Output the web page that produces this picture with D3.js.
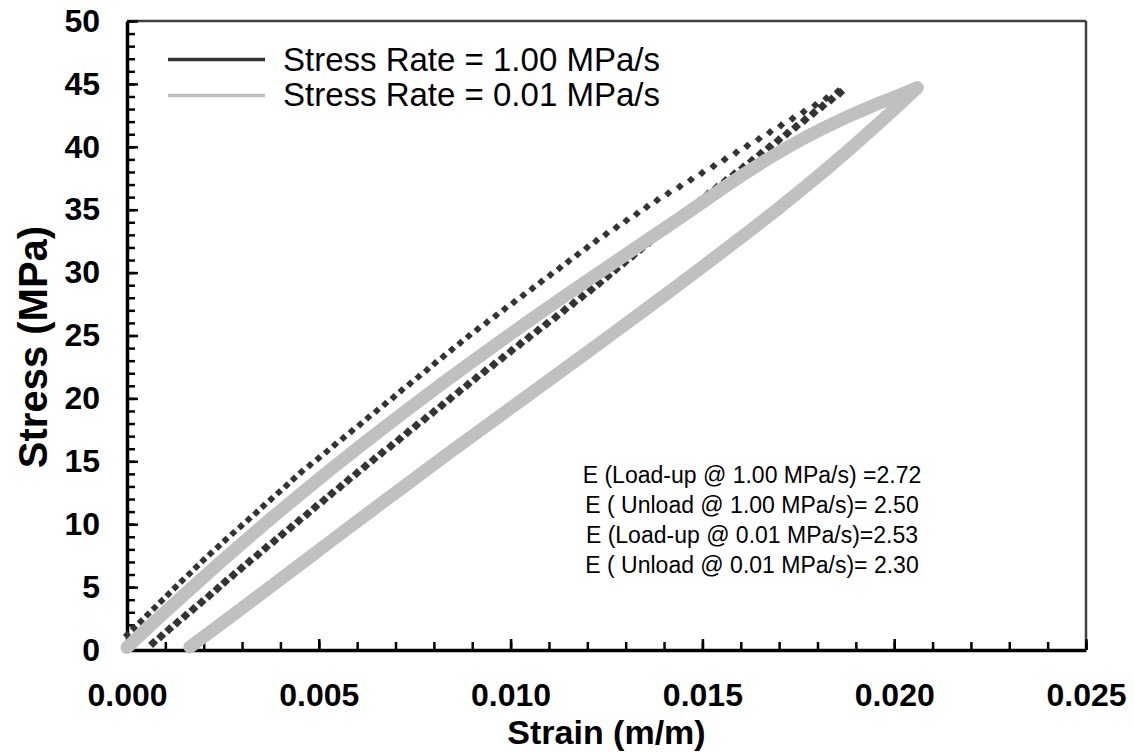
<!DOCTYPE html>
<html>
<head>
<meta charset="utf-8">
<script src="https://cdn.jsdelivr.net/npm/d3@7"></script>
<style>
  html, body { margin: 0; padding: 0; background: #fff; }
  svg { display: block; font-family: "Liberation Sans", Arial, sans-serif; }
</style>
</head>
<body>
<svg id="chart" width="1134" height="753"></svg>
<script>
// Axis ticks and labels
const xTicks = [0, 0.005, 0.010, 0.015, 0.020, 0.025];
const xTickLabels = ["0.000", "0.005", "0.010", "0.015", "0.020", "0.025"];
const yTicks = [0, 5, 10, 15, 20, 25, 30, 35, 40, 45, 50];
const yTickLabels = ["0", "5", "10", "15", "20", "25", "30", "35", "40", "45", "50"];

const seriesNames = ["Stress Rate = 1.00 MPa/s", "Stress Rate = 0.01 MPa/s"];
const modulusNotes = [
  "E (Load-up @ 1.00 MPa/s) =2.72",
  "E ( Unload @ 1.00 MPa/s)= 2.50",
  "E (Load-up @ 0.01 MPa/s)=2.53",
  "E ( Unload @ 0.01 MPa/s)= 2.30"
];

// 1.00 MPa/s — loading branch
const fastLoadStrain = [0.00000,0.00018,0.00036,0.00054,0.00072,0.00090,0.00108,0.00126,0.00144,0.00163,
  0.00181,0.00199,0.00218,0.00238,0.00257,0.00277,0.00297,0.00317,0.00337,0.00356,
  0.00376,0.00396,0.00416,0.00435,0.00455,0.00477,0.00499,0.00521,0.00542,0.00564,
  0.00586,0.00608,0.00629,0.00651,0.00673,0.00695,0.00716,0.00738,0.00760,0.00782,
  0.00803,0.00825,0.00847,0.00869,0.00891,0.00914,0.00938,0.00962,0.00985,0.01009,
  0.01033,0.01057,0.01080,0.01104,0.01128,0.01151,0.01175,0.01199,0.01223,0.01249,
  0.01276,0.01302,0.01329,0.01355,0.01382,0.01411,0.01441,0.01470,0.01499,0.01529,
  0.01558,0.01588,0.01617,0.01647,0.01676,0.01705,0.01735,0.01764,0.01794,0.01823,0.01853];
const fastLoadStress = [1.20,1.74,2.28,2.82,3.36,3.90,4.44,4.98,5.52,6.06,
  6.60,7.14,7.68,8.22,8.76,9.30,9.84,10.38,10.92,11.46,
  12.00,12.54,13.08,13.62,14.16,14.70,15.24,15.78,16.32,16.86,
  17.40,17.94,18.48,19.02,19.56,20.10,20.64,21.18,21.72,22.26,
  22.80,23.34,23.88,24.42,24.96,25.50,26.04,26.58,27.12,27.66,
  28.20,28.74,29.28,29.82,30.36,30.90,31.44,31.98,32.52,33.06,
  33.60,34.14,34.68,35.22,35.76,36.30,36.84,37.38,37.92,38.46,
  39.00,39.54,40.08,40.62,41.16,41.70,42.24,42.78,43.32,43.86,44.40];

// 1.00 MPa/s — unloading branch
const fastUnloadStrain = [0.01859,0.01836,0.01813,0.01790,0.01767,0.01744,0.01721,0.01698,0.01675,0.01652,
  0.01629,0.01606,0.01583,0.01560,0.01537,0.01514,0.01492,0.01470,0.01449,0.01427,
  0.01405,0.01384,0.01362,0.01340,0.01319,0.01297,0.01275,0.01254,0.01232,0.01210,
  0.01187,0.01164,0.01141,0.01118,0.01094,0.01071,0.01048,0.01025,0.01002,0.00979,
  0.00956,0.00933,0.00910,0.00888,0.00866,0.00843,0.00821,0.00799,0.00777,0.00754,
  0.00732,0.00710,0.00688,0.00665,0.00643,0.00621,0.00599,0.00577,0.00556,0.00534,
  0.00513,0.00491,0.00470,0.00448,0.00427,0.00405,0.00384,0.00362,0.00341,0.00319,
  0.00298,0.00277,0.00256,0.00236,0.00215,0.00194,0.00173,0.00152,0.00131,0.00110,0.00089,0.00068];
const fastUnloadStress = [44.30,43.76,43.22,42.68,42.14,41.60,41.06,40.52,39.98,39.44,
  38.90,38.36,37.82,37.28,36.74,36.20,35.66,35.12,34.58,34.04,
  33.50,32.96,32.42,31.88,31.34,30.80,30.26,29.72,29.18,28.64,
  28.10,27.56,27.02,26.48,25.94,25.40,24.86,24.32,23.78,23.24,
  22.70,22.16,21.62,21.08,20.54,20.00,19.46,18.92,18.38,17.84,
  17.30,16.76,16.22,15.68,15.14,14.60,14.06,13.52,12.98,12.44,
  11.90,11.36,10.82,10.28,9.74,9.20,8.66,8.12,7.58,7.04,
  6.50,5.96,5.42,4.88,4.34,3.80,3.26,2.72,2.18,1.64,1.10,0.56];

// 0.01 MPa/s — loading branch
const slowLoadStrain = [0.0000,0.0008,0.0016,0.0024,0.00312,0.0038,0.00451,0.0053,0.00607,0.0068,
  0.0075,0.0082,0.00894,0.0097,0.0105,0.0113,0.0120,0.01259,0.0132,0.0138,
  0.0143,0.0149,0.0155,0.0161,0.01668,0.0172,0.0177,0.0182,0.01876,0.0192,
  0.01963,0.0201,0.0206];
const slowLoadStress = [0.20,2.48,4.70,6.88,8.80,10.57,12.37,14.33,16.19,17.92,
  19.54,21.14,22.80,24.47,26.20,27.90,29.36,30.58,31.84,33.08,
  34.12,35.37,36.63,37.86,38.99,39.93,40.77,41.55,42.36,42.95,
  43.50,44.06,44.70];

// 0.01 MPa/s — unloading branch
const slowUnloadStrain = [0.0206,0.0201,0.0196,0.01885,0.0182,0.0176,0.01694,0.0163,0.0156,0.01494,
  0.0143,0.0136,0.01259,0.0120,0.0114,0.0109,0.0103,0.0097,0.0091,0.0085,
  0.0079,0.0073,0.0067,0.0061,0.00568,0.0051,0.00451,0.0039,0.0033,0.0027,
  0.0021,0.00164];
const slowUnloadStress = [44.70,43.26,41.87,39.84,38.14,36.62,35.00,33.48,31.84,30.32,
  28.85,27.26,24.99,23.67,22.34,21.23,19.90,18.57,17.23,15.89,
  14.54,13.18,11.82,10.45,9.49,8.16,6.80,5.39,4.01,2.64,
  1.28,0.24];

const darkColor = "#333333";
const lightColor = "#c0c0c0";

const svg = d3.select("#chart");
const x = d3.scaleLinear().domain([0, 0.025]).range([127, 1086]);
const y = d3.scaleLinear().domain([0, 50]).range([650, 21]);

// top and right frame
svg.append("line").attr("x1", x(0)).attr("x2", x(0.025)).attr("y1", y(50)).attr("y2", y(50))
  .attr("stroke", "#404040").attr("stroke-width", 2.5);
svg.append("line").attr("x1", x(0.025)).attr("x2", x(0.025)).attr("y1", y(50)).attr("y2", y(0))
  .attr("stroke", "#404040").attr("stroke-width", 2.5);

// minor ticks (inward)
const minorX = d3.range(0, 26).map(i => i / 1000);
const minorY = d3.range(0, 51);
svg.append("g").attr("transform", `translate(0,${y(0)})`)
  .call(d3.axisBottom(x).tickValues(minorX).tickSize(-8).tickSizeOuter(0).tickFormat(""))
  .call(g => g.select(".domain").remove())
  .call(g => g.selectAll(".tick line").attr("stroke", "#000").attr("stroke-width", 2.5));
svg.append("g").attr("transform", `translate(${x(0)},0)`)
  .call(d3.axisLeft(y).tickValues(minorY).tickSize(-8).tickSizeOuter(0).tickFormat(""))
  .call(g => g.select(".domain").remove())
  .call(g => g.selectAll(".tick line").attr("stroke", "#000").attr("stroke-width", 2.5));

// major ticks with labels
svg.append("g").attr("transform", `translate(0,${y(0)})`)
  .call(d3.axisBottom(x).tickValues(xTicks).tickSize(-11).tickSizeOuter(0).tickPadding(33)
    .tickFormat((d, i) => xTickLabels[i]))
  .call(g => g.select(".domain").attr("stroke", "#000").attr("stroke-width", 3.5))
  .call(g => g.selectAll(".tick line").attr("stroke", "#000").attr("stroke-width", 2.5))
  .call(g => g.selectAll(".tick text").attr("fill", "#000")
    .style("font-family", "'Liberation Sans', Arial, sans-serif")
    .style("font-size", "32px").style("font-weight", "bold"));
svg.append("g").attr("transform", `translate(${x(0)},0)`)
  .call(d3.axisLeft(y).tickValues(yTicks).tickSize(-11).tickSizeOuter(0).tickPadding(27)
    .tickFormat((d, i) => yTickLabels[i]))
  .call(g => g.select(".domain").attr("stroke", "#000").attr("stroke-width", 3.5))
  .call(g => g.selectAll(".tick line").attr("stroke", "#000").attr("stroke-width", 2.5))
  .call(g => g.selectAll(".tick text").attr("fill", "#000")
    .style("font-family", "'Liberation Sans', Arial, sans-serif")
    .style("font-size", "32px").style("font-weight", "bold"));

// axis titles
svg.append("text").attr("x", 606.5).attr("y", 744).attr("text-anchor", "middle")
  .style("font-size", "34px").style("font-weight", "bold").text("Strain (m/m)");
svg.append("text").attr("transform", "translate(47,347) rotate(-90)").attr("text-anchor", "middle")
  .style("font-size", "40px").style("font-weight", "bold").text("Stress (MPa)");

// diamond marker
const diamond = r => `M0,${-r}L${r},0L0,${r}L${-r},0Z`;
const zip = (xs, ys) => xs.map((v, i) => [v, ys[i]]);

// 1.00 MPa/s series: individual diamond markers
svg.append("g").selectAll("path").data(zip(fastUnloadStrain, fastUnloadStress)).join("path")
  .attr("d", diamond(5)).attr("fill", darkColor)
  .attr("transform", d => `translate(${x(d[0])},${y(d[1])})`);
svg.append("g").selectAll("path").data(zip(fastLoadStrain, fastLoadStress)).join("path")
  .attr("d", diamond(4.1)).attr("fill", darkColor)
  .attr("transform", d => `translate(${x(d[0])},${y(d[1])})`);

// 0.01 MPa/s series: dense data drawn as a broad band
const band = d3.line().x(d => x(d[0])).y(d => y(d[1])).curve(d3.curveLinear);
[zip(slowLoadStrain, slowLoadStress), zip(slowUnloadStrain, slowUnloadStress)].forEach(pts => {
  svg.append("path").attr("d", band(pts)).attr("fill", "none")
    .attr("stroke", lightColor).attr("stroke-width", 13)
    .attr("stroke-linejoin", "round").attr("stroke-linecap", "round");
});

// legend
const legendRows = [
  { name: seriesNames[0], color: darkColor, ly: 59.5, ty: 71 },
  { name: seriesNames[1], color: lightColor, ly: 95.5, ty: 106 }
];
legendRows.forEach(r => {
  svg.append("line").attr("x1", 168).attr("x2", 265).attr("y1", r.ly).attr("y2", r.ly)
    .attr("stroke", r.color).attr("stroke-width", 3.5);
  svg.append("text").attr("x", 283).attr("y", r.ty).style("font-size", "33px").text(r.name);
});

// modulus notes
modulusNotes.forEach((t, i) => {
  svg.append("text").attr("x", 752).attr("y", 483 + i * 30).attr("text-anchor", "middle")
    .style("font-size", "23px").text(t);
});
</script>
</body>
</html>
